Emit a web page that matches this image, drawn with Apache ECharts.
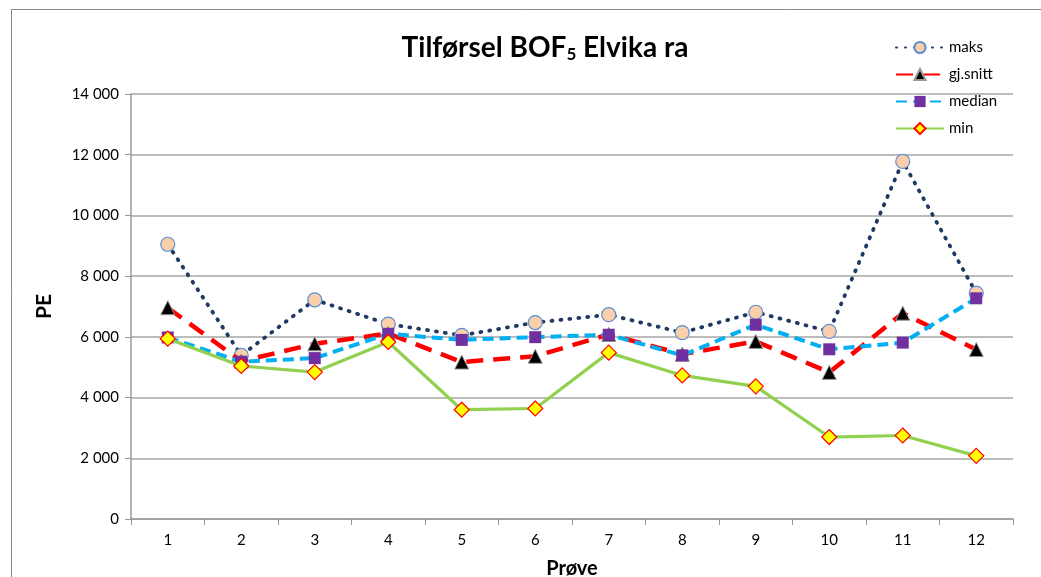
<!DOCTYPE html>
<html>
<head>
<meta charset="utf-8">
<script src="https://cdn.jsdelivr.net/npm/echarts@6/dist/echarts.min.js"></script>
<style>html,body{margin:0;padding:0;background:#fff}#c{width:1041px;height:577px}</style>
</head>
<body>
<div id="c"></div>
<script>
const categories = ['1','2','3','4','5','6','7','8','9','10','11','12'];
const maks    = [9050, 5390, 7220, 6420, 6050, 6470, 6730, 6140, 6810, 6180, 11780, 7440];
const gjsnitt = [6960, 5200, 5770, 6110, 5170, 5360, 6080, 5430, 5850, 4830, 6780, 5580];
const median  = [5980, 5180, 5300, 6100, 5900, 5990, 6070, 5390, 6400, 5590, 5810, 7270];
const minv    = [5940, 5040, 4840, 5830, 3600, 3640, 5480, 4730, 4370, 2700, 2750, 2080];
const yTicks = { min: 0, max: 14000, interval: 2000 };

const font = 'Lato, "Open Sans", sans-serif';
const chart = echarts.init(document.getElementById('c'));
chart.setOption({
  animation: false,
  backgroundColor: '#fff',
  title: {
    text: '{a|Tilførsel BOF}{s|5}{a| Elvika ra}',
    left: 540, top: 27, textAlign: 'center',
    textStyle: {
      rich: {
        a: { fontSize: 28, fontWeight: 'bold', fontFamily: font, color: '#000' },
        s: { fontSize: 17, fontWeight: 'bold', fontFamily: font, color: '#000', padding: [14, 0, 0, 0] }
      }
    }
  },
  graphic: [{
    type: 'rect', shape: { x: 11.5, y: 9.5, width: 1100, height: 700 },
    style: { fill: 'none', stroke: '#888', lineWidth: 1 }, silent: true
  }],
  legend: {
    orient: 'vertical', left: 890, top: 35, itemWidth: 48, itemHeight: 14, itemGap: 12,
    textStyle: { fontSize: 15, fontFamily: font, color: '#000' },
    data: ['maks', 'gj.snitt', 'median', 'min']
  },
  grid: { left: 131, top: 94, width: 882, height: 425, containLabel: false, outerBoundsMode: 'none' },
  xAxis: {
    type: 'category', data: categories, boundaryGap: true,
    name: 'Prøve', nameLocation: 'middle', nameGap: 40,
    nameTextStyle: { fontSize: 20, fontWeight: 'bold', fontFamily: font, color: '#000' },
    axisLine: { lineStyle: { color: '#999', width: 1.5 } },
    axisTick: { show: true, length: 6, alignWithLabel: false, lineStyle: { color: '#999' } },
    axisLabel: { fontSize: 15, fontFamily: font, color: '#000', margin: 14 }
  },
  yAxis: {
    type: 'value', min: yTicks.min, max: yTicks.max, interval: yTicks.interval,
    name: 'PE', nameLocation: 'middle', nameGap: 76, nameRotate: 90,
    nameTextStyle: { fontSize: 21, fontWeight: 'bold', fontFamily: font, color: '#000' },
    axisLine: { show: true, lineStyle: { color: '#999', width: 1.5 } },
    axisTick: { show: true, length: 6, lineStyle: { color: '#999' } },
    splitLine: { lineStyle: { color: '#a6a6a6', width: 1.5 } },
    axisLabel: {
      fontSize: 15, fontFamily: font, color: '#000', margin: 12,
      formatter: v => String(v).replace(/\B(?=(\d{3})+(?!\d))/g, ' ')
    }
  },
  series: [
    {
      name: 'maks', type: 'line', data: maks, z: 2,
      lineStyle: { color: '#1f3864', width: 3.8, type: [1, 8], cap: 'round' },
      symbol: 'circle', symbolSize: 14,
      itemStyle: { color: '#fbcfaa', borderColor: '#5b8fd6', borderWidth: 1.2 }
    },
    {
      name: 'gj.snitt', type: 'line', data: gjsnitt, z: 3,
      lineStyle: { color: '#ff0000', width: 4.5, type: [17, 10] },
      symbol: 'triangle', symbolSize: 14,
      itemStyle: { color: '#000', borderColor: '#999', borderWidth: 1 }
    },
    {
      name: 'median', type: 'line', data: median, z: 4,
      lineStyle: { color: '#00b0f0', width: 4, type: [11, 6] },
      symbol: 'rect', symbolSize: 12,
      itemStyle: { color: '#7030a0', borderColor: '#7030a0', borderWidth: 0 }
    },
    {
      name: 'min', type: 'line', data: minv, z: 5,
      lineStyle: { color: '#92d050', width: 3.2 },
      symbol: 'diamond', symbolSize: 15,
      itemStyle: { color: '#ffff00', borderColor: '#ff0000', borderWidth: 1.2 }
    }
  ]
});
</script>
</body>
</html>
